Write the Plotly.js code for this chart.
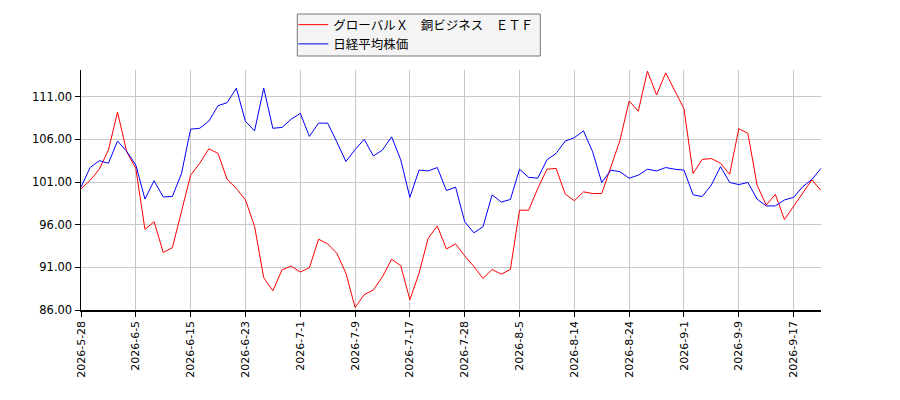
<!DOCTYPE html>
<html>
<head>
<meta charset="utf-8">
<script src="https://cdn.plot.ly/plotly-3.0.1.min.js"></script>
<style>html,body{margin:0;padding:0;background:#fff;}#chart{width:900px;height:400px;}</style>
</head>
<body>
<div id="chart"></div>
<script>
const dates = [
  "2026-5-28","2026-5-29","2026-6-1","2026-6-2","2026-6-3","2026-6-4","2026-6-5","2026-6-8","2026-6-9","2026-6-10",
  "2026-6-11","2026-6-12","2026-6-15","2026-6-16","2026-6-17","2026-6-18","2026-6-19","2026-6-22","2026-6-23","2026-6-24",
  "2026-6-25","2026-6-26","2026-6-29","2026-6-30","2026-7-1","2026-7-2","2026-7-3","2026-7-6","2026-7-7","2026-7-8",
  "2026-7-9","2026-7-10","2026-7-13","2026-7-14","2026-7-15","2026-7-16","2026-7-17","2026-7-21","2026-7-22","2026-7-23",
  "2026-7-24","2026-7-27","2026-7-28","2026-7-29","2026-7-30","2026-7-31","2026-8-3","2026-8-4","2026-8-5","2026-8-6",
  "2026-8-7","2026-8-10","2026-8-12","2026-8-13","2026-8-14","2026-8-17","2026-8-18","2026-8-19","2026-8-20","2026-8-21",
  "2026-8-24","2026-8-25","2026-8-26","2026-8-27","2026-8-28","2026-8-31","2026-9-1","2026-9-2","2026-9-3","2026-9-4",
  "2026-9-7","2026-9-8","2026-9-9","2026-9-10","2026-9-11","2026-9-14","2026-9-15","2026-9-16","2026-9-17","2026-9-18",
  "2026-9-24","2026-9-25"
];

const etfValues = [
  100.2,101.2,102.5,104.75,109.2,104.55,102.6,95.45,96.35,92.75,
  93.3,97.7,101.8,103.2,104.9,104.35,101.3,100.25,98.9,95.8,
  89.8,88.25,90.7,91.15,90.45,90.95,94.3,93.75,92.65,90.3,
  86.3,87.8,88.35,89.9,91.95,91.2,87.2,90.3,94.4,95.85,
  93.15,93.75,92.35,91.1,89.7,90.75,90.2,90.75,97.7,97.7,
  100.25,102.5,102.6,99.6,98.8,99.85,99.65,99.65,102.8,105.9,
  110.5,109.3,114.0,111.2,113.8,111.6,109.6,102.0,103.65,103.75,
  103.2,101.9,107.25,106.7,100.65,98.3,99.55,96.6,98.1,99.65,
  101.25,100.0
];

const nikkeiValues = [
  100.4,102.7,103.5,103.2,105.8,104.6,103.0,99.0,101.15,99.25,
  99.3,102.0,107.2,107.3,108.15,109.95,110.3,112.0,108.1,107.0,
  112.0,107.3,107.4,108.35,109.05,106.35,107.9,107.9,105.7,103.4,
  104.8,106.0,104.05,104.75,106.3,103.6,99.2,102.4,102.3,102.7,
  100.0,100.4,96.35,95.05,95.75,99.5,98.65,98.95,102.5,101.55,
  101.45,103.6,104.35,105.8,106.2,107.0,104.55,100.95,102.4,102.2,
  101.45,101.8,102.5,102.3,102.7,102.5,102.4,99.5,99.3,100.65,
  102.8,100.95,100.7,100.95,99.0,98.2,98.2,98.9,99.2,100.45,
  101.3,102.6
];

const tickDates = ["2026-5-28","2026-6-5","2026-6-15","2026-6-23","2026-7-1","2026-7-9","2026-7-17",
  "2026-7-28","2026-8-5","2026-8-14","2026-8-24","2026-9-1","2026-9-9","2026-9-17"];
const yTicks = [86, 91, 96, 101, 106, 111];

const seriesNames = ["グローバルＸ　銅ビジネス　ＥＴＦ", "日経平均株価"];

const traces = [
  {x: dates, y: etfValues, type: "scatter", mode: "lines", name: seriesNames[0],
   line: {color: "#ff0000", width: 1}},
  {x: dates, y: nikkeiValues, type: "scatter", mode: "lines", name: seriesNames[1],
   line: {color: "#0000ff", width: 1}}
];

const layout = {
  width: 900, height: 400,
  margin: {l: 80.7, r: 79.3, t: 70, b: 90, pad: 0, autoexpand: false},
  paper_bgcolor: "#ffffff", plot_bgcolor: "#ffffff",
  font: {family: "DejaVu Sans, sans-serif", size: 11, color: "#000"},
  showlegend: true,
  legend: {
    x: 0.2869, y: 1.25, xanchor: "left", yanchor: "top",
    bgcolor: "rgba(0,0,0,0)", borderwidth: 0,
    font: {family: "Noto Sans CJK JP, sans-serif", size: 12.5, color: "#000"},
    tracegroupgap: 0, itemwidth: 30
  },
  shapes: [
    {type: "rect", xref: "paper", yref: "paper", layer: "below",
     x0: 0.2923, x1: 0.6207, y0: 1.0583, y1: 1.2333,
     fillcolor: "#f4f4f4", line: {color: "#777777", width: 1}}
  ],
  xaxis: {
    type: "category", categoryorder: "array", categoryarray: dates,
    range: [0, dates.length - 1], automargin: false,
    tickmode: "array", tickvals: tickDates, ticktext: tickDates,
    tickangle: -90, ticks: "outside", ticklen: 5, tickcolor: "#000",
    showgrid: true, gridcolor: "#c8c8c8", gridwidth: 1,
    showline: true, linecolor: "#000", linewidth: 1.5,
    zeroline: false,
    tickfont: {family: "DejaVu Sans, sans-serif", size: 11, color: "#000"}
  },
  yaxis: {
    range: [86, 114.13], automargin: false,
    tickmode: "array", tickvals: yTicks, ticktext: yTicks.map(v => v.toFixed(2)),
    ticks: "outside", ticklen: 5, tickcolor: "#000",
    showgrid: true, gridcolor: "#c8c8c8", gridwidth: 1,
    showline: true, linecolor: "#000", linewidth: 1.5,
    zeroline: false,
    tickfont: {family: "DejaVu Sans, sans-serif", size: 11.5, color: "#000"}
  }
};

Plotly.newPlot("chart", traces, layout, {displayModeBar: false, staticPlot: true});
</script>
</body>
</html>
